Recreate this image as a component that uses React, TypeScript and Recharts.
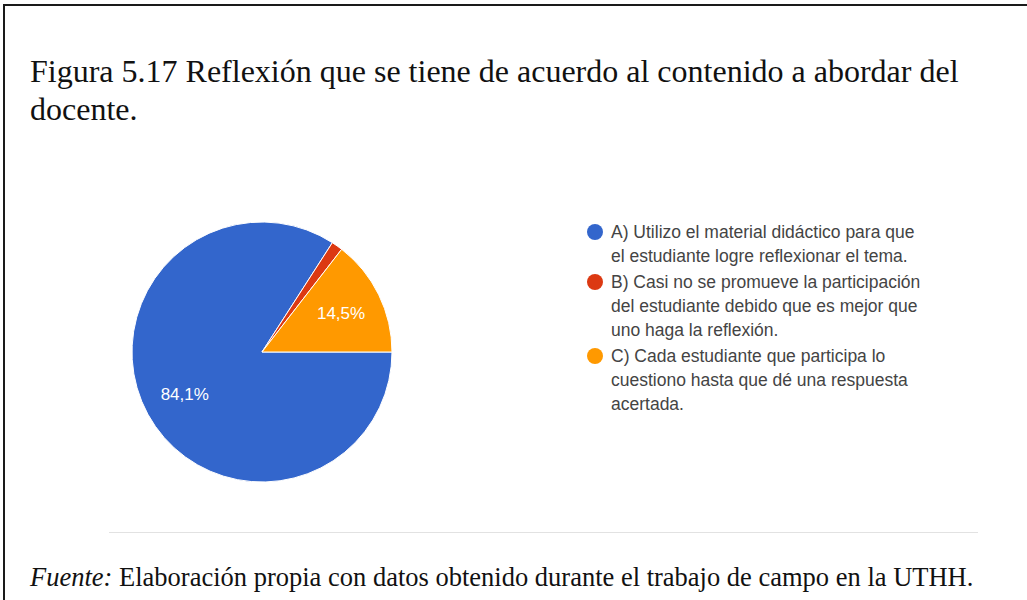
import React from 'react';
import { PieChart, Pie, Cell, Legend } from 'recharts';

const categories = [
  'A) Utilizo el material didáctico para que el estudiante logre reflexionar el tema.',
  'B) Casi no se promueve la participación del estudiante debido que es mejor que uno haga la reflexión.',
  'C) Cada estudiante que participa lo cuestiono hasta que dé una respuesta acertada.',
];
const percentages = [84.1, 1.4, 14.5];
const colors = ['#3366cc', '#dc3912', '#ff9900'];

const titleText = 'Figura 5.17 Reflexión que se tiene de acuerdo al contenido a abordar del docente.';
const sourceLabel = 'Fuente:';
const sourceText = ' Elaboración propia con datos obtenido durante el trabajo de campo en la UTHH.';

const data = categories.map((name, i) => ({ name, value: percentages[i] }));

const RADIAN = Math.PI / 180;
const sans = '"Liberation Sans", Arial, sans-serif';
const serif = '"Liberation Serif", "Times New Roman", serif';

const renderLabel = (props: any) => {
  const { cx, cy, midAngle, percent, value } = props;
  if (percent < 0.05) return null;
  const r = 88;
  const x = cx + r * Math.cos(-midAngle * RADIAN);
  const y = cy + r * Math.sin(-midAngle * RADIAN);
  return (
    <text x={x} y={y} fill="#ffffff" textAnchor="middle" dominantBaseline="central"
      style={{ fontFamily: sans, fontSize: 17 }}>
      {value.toFixed(1).replace('.', ',') + '%'}
    </text>
  );
};

const renderLegend = () => (
  <div style={{ fontFamily: sans, fontSize: 17.5, lineHeight: '24px', color: '#444' }}>
    {categories.map((c, i) => (
      <div key={c} style={{ display: 'flex', alignItems: 'flex-start', marginBottom: 2 }}>
        <svg width={24} height={24} style={{ flex: 'none' }}>
          <circle cx={8} cy={12} r={8} fill={colors[i]} />
        </svg>
        <div style={{ width: 314 }}>{c}</div>
      </div>
    ))}
  </div>
);

export default function App() {
  return (
    <div style={{ position: 'absolute', left: 0, top: 0, width: 1027, height: 600, overflow: 'hidden', background: '#fff' }}>
      <div style={{ position: 'absolute', left: 3, top: 4, width: 1100, height: 700, border: '2px solid #1a1a1a' }} />
      <div style={{ position: 'absolute', left: 30, top: 52, width: 960, fontFamily: serif, fontSize: 32, lineHeight: '38px', color: '#111' }}>
        {titleText}
      </div>
      <div style={{ position: 'absolute', left: 0, top: 0 }}>
        <PieChart width={1027} height={600} margin={{ top: 0, right: 0, bottom: 0, left: 0 }}>
          <Pie
            data={data}
            dataKey="value"
            nameKey="name"
            cx={262}
            cy={352}
            outerRadius={130}
            startAngle={0}
            endAngle={-360}
            stroke="#ffffff"
            strokeWidth={1}
            labelLine={false}
            label={renderLabel}
            isAnimationActive={false}
          >
            {data.map((d, i) => (
              <Cell key={d.name} fill={colors[i]} />
            ))}
          </Pie>
          <Legend content={renderLegend} wrapperStyle={{ position: 'absolute', left: 587, top: 220, width: 350, right: 'auto', bottom: 'auto' }} />
        </PieChart>
      </div>
      <div style={{ position: 'absolute', left: 109, top: 532, width: 869, height: 1, background: '#e2e2e2' }} />
      <div style={{ position: 'absolute', left: 30, top: 562, fontFamily: serif, fontSize: 26.5, lineHeight: '30px', color: '#111', whiteSpace: 'nowrap' }}>
        <i>{sourceLabel}</i>{sourceText}
      </div>
    </div>
  );
}
